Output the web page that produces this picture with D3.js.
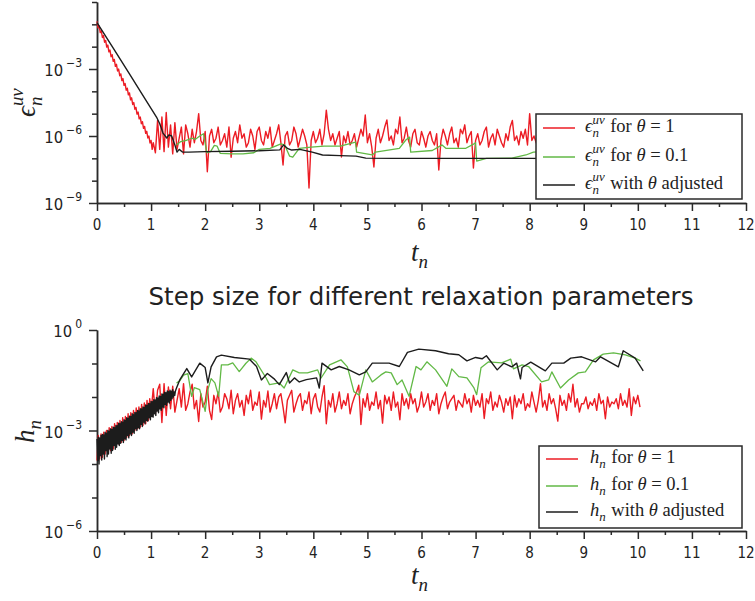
<!DOCTYPE html>
<html><head><meta charset="utf-8">
<script src="https://cdn.jsdelivr.net/npm/d3@7"></script>
<style>body{margin:0;background:#fff}svg text{white-space:pre}</style>
</head><body>
<svg id="c" width="755" height="601"></svg>
<script>
// ---------- data (log10 of the plotted values) ----------
const xTicks = [0,1,2,3,4,5,6,7,8,9,10,11,12];
const errDecades = [-9,-8,-7,-6,-5,-4,-3,-2,-1,0];
const errMajor = [-9,-6,-3];
const stepDecades = [-6,-5,-4,-3,-2,-1,0];
const stepMajor = [-6,-3,0];
const titleText = "Step size for different relaxation parameters";
const legendSuffix = ["for θ = 1","for θ = 0.1","with θ adjusted"];

// top: error, red series (theta = 1)
const errRedDecayStart = 0, errRedDecayStep = 0.02;
const errRedDecay = [-0.87,-1.16,-1.07,-1.37,-1.29,-1.59,-1.5,-1.8,-1.72,-2.02,
 -1.93,-2.23,-2.15,-2.45,-2.36,-2.66,-2.57,-2.88,-2.79,-3.09,
 -3.0,-3.3,-3.22,-3.52,-3.43,-3.73,-3.65,-3.95,-3.86,-4.16,
 -4.07,-4.38,-4.29,-4.59,-4.5,-4.8,-4.72,-5.02,-4.93,-5.23,
 -5.15,-5.45,-5.36,-5.66,-5.57,-5.88,-5.79,-6.09,-6.0,-6.31,-6.2,-6.6];
const errRedNoiseStart = 1.04, errRedNoiseStep = 0.04;
const errRedNoise = [
 -6.3,-6.75,-5.3,-6.6,-5.15,-6.7,-4.95,-6.5,-5.5,-6.8,
 -5.4,-6.6,-6.1,-5.6,-6.8,-5.5,-5.9,-6.5,-5.7,-6.3,
 -5.8,-5.0,-6.2,-6.4,-5.8,-7.6,-6.0,-5.7,-6.3,-6.1,
 -5.6,-6.4,-6.2,-5.9,-6.5,-5.6,-6.95,-6.1,-5.8,-6.3,
 -5.5,-6.1,-5.9,-6.5,-6.3,-5.7,-6.0,-6.6,-5.8,-5.6,
 -6.2,-6.4,-5.8,-6.1,-5.6,-6.5,-6.2,-5.9,-5.5,-6.3,
 -7.3,-6.0,-5.8,-6.4,-6.2,-5.6,-5.9,-6.5,-6.1,-5.7,
 -6.0,-6.4,-8.33,-6.2,-5.8,-6.3,-6.1,-5.7,-6.4,-5.9,
 -4.84,-5.7,-6.2,-5.9,-6.4,-6.1,-5.8,-6.94,-6.0,-6.3,
 -5.8,-6.4,-6.2,-5.9,-6.5,-6.1,-5.7,-6.0,-5.06,-6.3,
 -5.9,-6.5,-7.39,-6.1,-5.7,-6.3,-6.0,-5.6,-5.28,-6.2,
 -6.0,-6.4,-5.7,-5.9,-5.15,-6.3,-6.1,-5.6,-6.2,-6.5,
 -5.9,-5.7,-6.3,-6.4,-5.8,-6.1,-6.5,-6.0,-5.8,-6.2,
 -6.4,-5.9,-7.52,-6.2,-5.7,-6.0,-6.4,-5.9,-5.6,-6.3,
 -6.1,-6.5,-5.7,-5.9,-5.5,-6.3,-6.0,-5.8,-7.43,-6.2,
 -5.9,-6.4,-6.2,-5.8,-5.6,-6.5,-6.1,-5.9,-6.4,-5.7,
 -6.0,-6.3,-6.5,-5.9,-6.2,-5.6,-5.3,-6.2,-6.0,-6.4,
 -5.8,-6.1,-5.7,-6.4,-5.0,-6.2,-6.0,-6.3,-5.7,-6.1,
 -6.4,-5.8,-6.2,-5.9,-6.5,-5.7,-6.1,-6.3,-5.8,-6.2,
 -5.9,-6.4,-5.7,-6.2,-6.0,-5.6,-6.3,-5.9,-6.1,-5.8,
 -6.4,-5.9,-6.2,-5.7,-6.3,-6.0,-5.8,-6.5,-5.9,-6.2,
 -5.7,-6.1,-6.4,-5.8,-6.2,-5.9,-6.3,-5.6,-6.0,-6.4,
 -5.8,-6.2,-5.9,-6.3,-5.7,-6.1,-6.0];
// top: error, green series (theta = 0.1) [t, log10]
const errGreen = [[1.47,-6.4],[1.55,-6.25],[1.65,-6.2],[1.75,-6.1],[1.82,-6.15],[1.9,-6.0],[1.97,-5.9],
 [2.03,-6.75],[2.1,-6.7],[2.17,-6.42],[2.22,-6.45],[2.28,-6.78],[2.5,-6.8],[2.7,-6.8],[2.9,-6.75],
 [3.0,-6.6],[3.2,-6.55],[3.4,-6.35],[3.47,-6.4],[3.56,-6.9],[3.62,-6.95],[3.74,-6.55],[3.96,-6.5],
 [4.2,-6.45],[4.5,-6.45],[4.78,-6.27],[4.8,-6.72],[5.09,-6.85],[5.15,-6.72],[5.59,-6.55],[5.71,-6.18],
 [5.78,-6.05],[5.8,-6.72],[6.2,-6.65],[6.38,-6.4],[6.45,-6.55],[6.82,-6.55],[6.97,-6.35],[7.0,-6.3],
 [7.02,-7.12],[7.2,-7.0],[7.67,-6.99],[7.93,-6.85],[8.07,-6.72],[8.6,-6.65],[9.2,-6.6],[10.05,-6.55]];
// top: error, black series (theta adjusted)
const errBlack = [[0,-0.92],[0.3,-2.07],[0.6,-3.22],[0.9,-4.38],[1.1,-5.15],[1.16,-5.45],[1.22,-5.87],
 [1.29,-6.09],[1.33,-5.95],[1.38,-6.0],[1.44,-6.4],[1.48,-6.72],[1.52,-6.6],[1.58,-6.72],[1.7,-6.72],
 [2.0,-6.7],[2.5,-6.68],[3.0,-6.66],[3.38,-6.62],[3.45,-6.4],[3.52,-6.55],[3.6,-6.63],[3.75,-6.6],
 [3.98,-6.72],[4.17,-6.85],[4.5,-6.88],[4.79,-6.9],[4.97,-6.99],[5.5,-7.0],[6.0,-7.0],[7.0,-7.0],
 [8.0,-7.0],[9.0,-7.02],[10.1,-7.02]];

// bottom: step size, red series (theta = 1)
const stepRedRampStart = 0, stepRedRampStep = 0.025;
const stepRedRamp = [-3.9,-3.15,-3.85,-3.1,-3.8,-3.05,-3.7,-3.0,-3.65,-2.92,
 -3.6,-2.88,-3.55,-2.8,-3.45,-2.76,-3.4,-2.7,-3.35,-2.62,
 -3.3,-2.58,-3.2,-2.5,-3.15,-2.47,-3.1,-2.4,-3.0,-2.33,
 -2.95,-2.3,-2.9,-2.22,-2.85,-2.18,-2.8,-2.1,-2.7,-2.05];
const stepRedNoiseStart = 1.0, stepRedNoiseStep = 0.04;
const stepRedNoise = [
 -2.45,-1.75,-2.5,-1.8,-1.62,-2.76,-1.6,-2.55,-1.7,-2.35,
 -1.68,-2.45,-2.1,-1.75,-2.3,-1.6,-2.4,-2.2,-1.85,-1.62,
 -2.35,-2.1,-2.73,-1.9,-2.3,-2.15,-1.68,-2.4,-2.67,-1.95,
 -2.2,-1.85,-2.45,-2.3,-1.9,-2.05,-2.35,-1.8,-2.5,-2.1,
 -1.9,-2.3,-2.1,-2.55,-1.95,-2.2,-1.8,-2.4,-2.15,-2.25,
 -1.85,-2.66,-2.1,-2.3,-1.82,-2.45,-2.2,-1.9,-2.35,-2.0,
 -1.9,-2.3,-2.77,-2.1,-1.95,-1.8,-2.45,-2.2,-2.0,-1.9,
 -2.4,-2.1,-2.2,-1.85,-2.5,-2.05,-1.9,-2.3,-2.45,-2.0,
 -1.66,-2.8,-2.1,-2.3,-1.9,-2.45,-2.2,-1.85,-2.35,-2.1,
 -2.25,-1.9,-2.5,-2.2,-2.0,-1.85,-1.65,-2.82,-2.05,-2.3,
 -1.9,-2.4,-2.15,-2.25,-1.85,-2.35,-2.1,-2.78,-1.95,-2.2,
 -2.0,-2.4,-1.85,-2.3,-2.15,-2.68,-1.9,-2.25,-2.05,-2.35,
 -1.9,-2.2,-2.05,-2.45,-2.25,-1.85,-2.3,-2.15,-1.9,-2.4,
 -2.1,-2.25,-1.9,-2.5,-2.2,-2.0,-1.85,-2.35,-2.15,-2.05,
 -1.95,-2.4,-2.1,-2.2,-2.3,-1.9,-2.2,-2.05,-2.45,-1.95,
 -2.25,-2.1,-2.3,-1.9,-2.64,-2.05,-2.2,-1.85,-2.4,-2.15,
 -2.3,-1.95,-2.15,-2.45,-2.05,-2.25,-2.0,-2.65,-1.95,-2.3,
 -2.05,-2.2,-1.9,-2.4,-2.2,-2.3,-1.85,-2.15,-2.45,-2.1,
 -1.6,-2.3,-2.1,-2.4,-1.9,-2.2,-2.05,-2.35,-2.72,-1.95,
 -2.25,-2.1,-2.4,-1.9,-2.15,-1.62,-2.3,-2.05,-2.45,-2.2,
 -2.2,-2.0,-2.35,-2.15,-2.25,-2.05,-2.4,-1.9,-2.2,-2.1,
 -2.65,-2.0,-2.3,-2.15,-2.2,-2.05,-2.35,-1.9,-2.25,-2.1,
 -2.3,-1.75,-2.55,-2.0,-2.2,-1.95,-2.3];
// bottom: step size, green series (theta = 0.1)
const stepGreen = [[1.47,-1.58],[1.53,-1.52],[1.6,-1.35],[1.68,-1.3],[1.75,-1.98],[1.8,-1.72],[1.9,-1.78],
 [2.0,-2.43],[2.05,-1.78],[2.11,-1.45],[2.18,-1.58],[2.25,-1.98],[2.3,-1.04],[2.42,-1.04],[2.51,-0.98],
 [2.63,-1.24],[2.75,-1.0],[2.85,-0.84],[2.94,-0.95],[3.13,-1.44],[3.19,-1.63],[3.37,-1.58],[3.46,-1.73],
 [3.62,-1.19],[3.74,-1.28],[3.89,-1.28],[4.08,-1.19],[4.14,-1.44],[4.3,-1.04],[4.51,-0.89],[4.63,-1.1],
 [4.75,-1.84],[4.85,-1.95],[4.97,-1.19],[5.09,-1.55],[5.25,-1.34],[5.34,-1.25],[5.44,-1.28],[5.55,-1.63],
 [5.64,-1.49],[5.77,-1.98],[5.9,-1.09],[5.99,-1.19],[6.1,-0.95],[6.26,-1.19],[6.47,-1.68],[6.56,-1.16],
 [6.69,-1.39],[6.84,-1.43],[6.97,-1.73],[7.02,-1.93],[7.1,-1.13],[7.24,-0.95],[7.48,-0.98],[7.65,-0.87],
 [7.7,-1.16],[7.86,-1.04],[7.98,-1.09],[8.22,-1.55],[8.35,-1.49],[8.41,-1.25],[8.57,-1.73],[8.72,-1.49],
 [8.9,-1.28],[9.03,-1.25],[9.18,-0.89],[9.36,-0.72],[9.55,-0.68],[9.77,-0.74],[9.95,-0.84],[10.05,-0.92]];
// bottom: step size, black series (theta adjusted)
const stepBlackRampStart = 0, stepBlackRampStep = 0.0125;
const stepBlackRamp = [
 -3.25,-3.9,-3.2,-4.0,-3.22,-3.75,-3.15,-3.88,-3.12,-3.7,
 -3.13,-3.85,-3.05,-3.6,-3.08,-3.78,-3.0,-3.7,-3.02,-3.55,
 -2.95,-3.68,-2.97,-3.6,-2.9,-3.45,-2.92,-3.56,-2.85,-3.5,
 -2.86,-3.4,-2.78,-3.45,-2.8,-3.38,-2.74,-3.3,-2.75,-3.36,
 -2.68,-3.25,-2.7,-3.28,-2.62,-3.15,-2.64,-3.22,-2.57,-3.1,
 -2.58,-3.15,-2.5,-3.05,-2.53,-3.08,-2.46,-2.95,-2.47,-3.0,
 -2.4,-2.92,-2.42,-2.95,-2.35,-2.82,-2.36,-2.88,-2.3,-2.75,
 -2.31,-2.8,-2.24,-2.7,-2.25,-2.72,-2.19,-2.62,-2.2,-2.68,
 -2.13,-2.58,-2.14,-2.6,-2.08,-2.5,-2.09,-2.55,-2.02,-2.42,
 -2.03,-2.47,-1.97,-2.35,-1.98,-2.4,-1.91,-2.3,-1.92,-2.32,
 -1.86,-2.22,-1.87,-2.25,-1.82,-2.15,-1.84,-2.18,-1.8,-2.1,
 -1.83,-2.05,-1.78,-2.0,-1.85,-1.95,-1.82];
const stepBlack = [[1.47,-1.73],[1.53,-1.49],[1.66,-1.15],[1.75,-1.4],[1.9,-0.99],[2.0,-1.12],[2.05,-1.58],
 [2.11,-1.1],[2.21,-0.8],[2.3,-0.75],[2.54,-0.82],[2.82,-0.87],[2.95,-1.09],[3.04,-1.49],[3.15,-1.3],
 [3.27,-1.45],[3.37,-1.63],[3.5,-1.27],[3.56,-1.58],[3.65,-1.43],[3.74,-1.55],[3.87,-1.48],[4.06,-1.43],
 [4.11,-1.73],[4.16,-0.99],[4.33,-1.19],[4.48,-1.09],[4.66,-1.19],[4.85,-1.34],[4.97,-1.25],[5.09,-0.99],
 [5.4,-0.99],[5.59,-1.09],[5.74,-0.67],[5.95,-0.57],[6.26,-0.62],[6.5,-0.71],[6.69,-0.74],[6.84,-0.92],
 [7.0,-0.82],[7.12,-0.86],[7.2,-0.77],[7.4,-1.19],[7.52,-0.99],[7.67,-1.1],[7.76,-0.99],[7.83,-1.46],
 [7.86,-1.12],[8.02,-0.96],[8.29,-1.22],[8.41,-0.99],[8.63,-0.99],[8.76,-0.84],[8.96,-0.8],[9.22,-0.95],
 [9.31,-0.8],[9.64,-1.1],[9.73,-0.62],[9.95,-0.84],[10.1,-1.22]];

// ---------- helpers ----------
const grid = (arr, t0, dt) => arr.map((v,i) => [t0 + i*dt, Math.pow(10, v)]);
const pairs = arr => arr.map(d => [d[0], Math.pow(10, d[1])]);
const COL = {red:"#ec1c24", green:"#62b946", black:"#1c1c1c", axis:"#2a2a2a"};
const SERIF = "'Liberation Serif','DejaVu Serif',serif";
const SANS = "'DejaVu Sans Condensed','Liberation Sans Narrow','Liberation Sans',sans-serif";

const svg = d3.select("#c");
const x = d3.scaleLinear().domain([0,12]).range([97,746]);

function mathText(text, sym, sub, sup, suffix, fs) {
  const ss = fs*0.7;
  text.append("tspan").attr("font-style","italic").text(sym);
  text.append("tspan").attr("font-style","italic").attr("font-size",ss).attr("dy",fs*0.25).text(sub);
  let back = -fs*0.25;
  if (sup) {
    text.append("tspan").attr("font-style","italic").attr("font-size",ss)
      .attr("dx",-ss*0.5).attr("dy",-fs*0.25-fs*0.45).text(sup);
    back = fs*0.45;
  }
  if (suffix) {
    const parts = suffix.split("θ");
    text.append("tspan").attr("dy",back).attr("dx",fs*0.3).text(parts[0]);
    text.append("tspan").attr("font-style","italic").text("θ");
    text.append("tspan").text(parts[1]);
  }
}

function panel(y, decades, major, yBottom, series, legendBox, sym, sup) {
  const g = svg.append("g");
  const x0 = x(0);
  // x axis
  const ax = g.append("g").attr("transform",`translate(0,${yBottom})`);
  ax.call(d3.axisBottom(x).tickValues(xTicks).tickSize(8).tickSizeOuter(0).tickFormat(""));
  ax.append("g").call(d3.axisBottom(x).tickValues(xTicks.slice(0,-1).map(v=>v+0.5)).tickSize(4).tickSizeOuter(0).tickFormat(""));
  ax.selectAll("path,line").attr("stroke",COL.axis).attr("stroke-width",1.5);
  ax.selectAll(".tick text").remove();
  g.selectAll(null).data(xTicks).join("text")
    .attr("x",d=>x(d)).attr("y",yBottom+27).attr("text-anchor","middle")
    .attr("font-family",SANS).attr("font-stretch","condensed").attr("font-size",15).attr("fill","#222").text(d=>d);
  // y axis
  const ay = g.append("g").attr("transform",`translate(${x0},0)`);
  ay.call(d3.axisLeft(y).tickValues(major.map(k=>Math.pow(10,k))).tickSize(8).tickSizeOuter(0).tickFormat(""));
  ay.append("g").call(d3.axisLeft(y).tickValues(decades.filter(k=>!major.includes(k)).map(k=>Math.pow(10,k))).tickSize(5).tickSizeOuter(0).tickFormat(""));
  ay.selectAll("path,line").attr("stroke",COL.axis).attr("stroke-width",1.5);
  const lab = g.selectAll(null).data(major).join("text")
    .attr("x",x0-15).attr("y",d=>y(Math.pow(10,d))+7).attr("text-anchor","end")
    .attr("font-family",SANS).attr("font-stretch","condensed").attr("font-size",16.5).attr("fill","#222");
  lab.append("tspan").text("10");
  lab.append("tspan").attr("font-size",12).attr("dx",3).attr("dy",-9).text(d=>d===0?"0":"\u2212"+Math.abs(d));
  // lines
  const line = d3.line().x(d=>x(d[0])).y(d=>y(d[1]));
  series.forEach(s => g.append("path").datum(s.data).attr("d",line)
    .attr("fill","none").attr("stroke",s.color).attr("stroke-width",s.w)
    .attr("stroke-linejoin","round"));
  // legend
  const lb = legendBox;
  g.append("rect").attr("x",lb.x).attr("y",lb.y).attr("width",lb.w).attr("height",lb.h)
    .attr("fill","#fff").attr("stroke","#2a2a2a").attr("stroke-width",1.5);
  [COL.red,COL.green,COL.black].forEach((c,i) => {
    const ry = lb.rows[i];
    g.append("line").attr("x1",lb.lx1).attr("x2",lb.lx2).attr("y1",ry).attr("y2",ry)
      .attr("stroke",c).attr("stroke-width",1.5);
    const t = g.append("text").attr("x",lb.tx).attr("y",ry+4)
      .attr("font-family",SERIF).attr("font-size",18.5).attr("fill","#222");
    mathText(t, sym, "n", sup, legendSuffix[i], 18.5);
  });
  return g;
}

// ---------- top panel ----------
const yTop = d3.scaleLog().domain([1e-9,1]).range([203,2]);
panel(yTop, errDecades, errMajor, 203, [
  {data: grid(errRedDecay, errRedDecayStart, errRedDecayStep).concat(grid(errRedNoise, errRedNoiseStart, errRedNoiseStep)), color: COL.red, w: 1.4},
  {data: pairs(errGreen), color: COL.green, w: 1.3},
  {data: pairs(errBlack), color: COL.black, w: 1.4}
], {x:536, y:114, w:206, h:85, rows:[128,157,185], lx1:543, lx2:575, tx:585}, "\u03F5", "uv");

// ---------- bottom panel ----------
const yBot = d3.scaleLog().domain([1e-6,1]).range([531,330]);
panel(yBot, stepDecades, stepMajor, 531, [
  {data: grid(stepRedRamp, stepRedRampStart, stepRedRampStep).concat(grid(stepRedNoise, stepRedNoiseStart, stepRedNoiseStep)), color: COL.red, w: 1.4},
  {data: pairs(stepGreen), color: COL.green, w: 1.3},
  {data: grid(stepBlackRamp, stepBlackRampStart, stepBlackRampStep).concat(pairs(stepBlack)), color: COL.black, w: 1.4}
], {x:539, y:446, w:203, h:82, rows:[459,486,512], lx1:546, lx2:578, tx:590}, "h", null);

// ---------- axis titles ----------
[261, 584].forEach(yy => {
  const t = svg.append("text").attr("x",411).attr("y",yy).attr("font-family",SERIF)
    .attr("font-size",27).attr("fill","#222");
  mathText(t, "t", "n", null, null, 27);
});
const yl1 = svg.append("text").attr("transform","translate(35,117) rotate(-90)")
  .attr("font-family",SERIF).attr("font-size",27).attr("fill","#222");
mathText(yl1, "\u03F5", "n", "uv", null, 27);
const yl2 = svg.append("text").attr("transform","translate(34,443) rotate(-90)")
  .attr("font-family",SERIF).attr("font-size",27).attr("fill","#222");
mathText(yl2, "h", "n", null, null, 27);

svg.append("text").attr("x",421).attr("y",305).attr("text-anchor","middle")
  .attr("font-family","'DejaVu Sans',sans-serif").attr("font-size",24.5).attr("fill","#222")
  .text(titleText);
</script>
</body></html>
